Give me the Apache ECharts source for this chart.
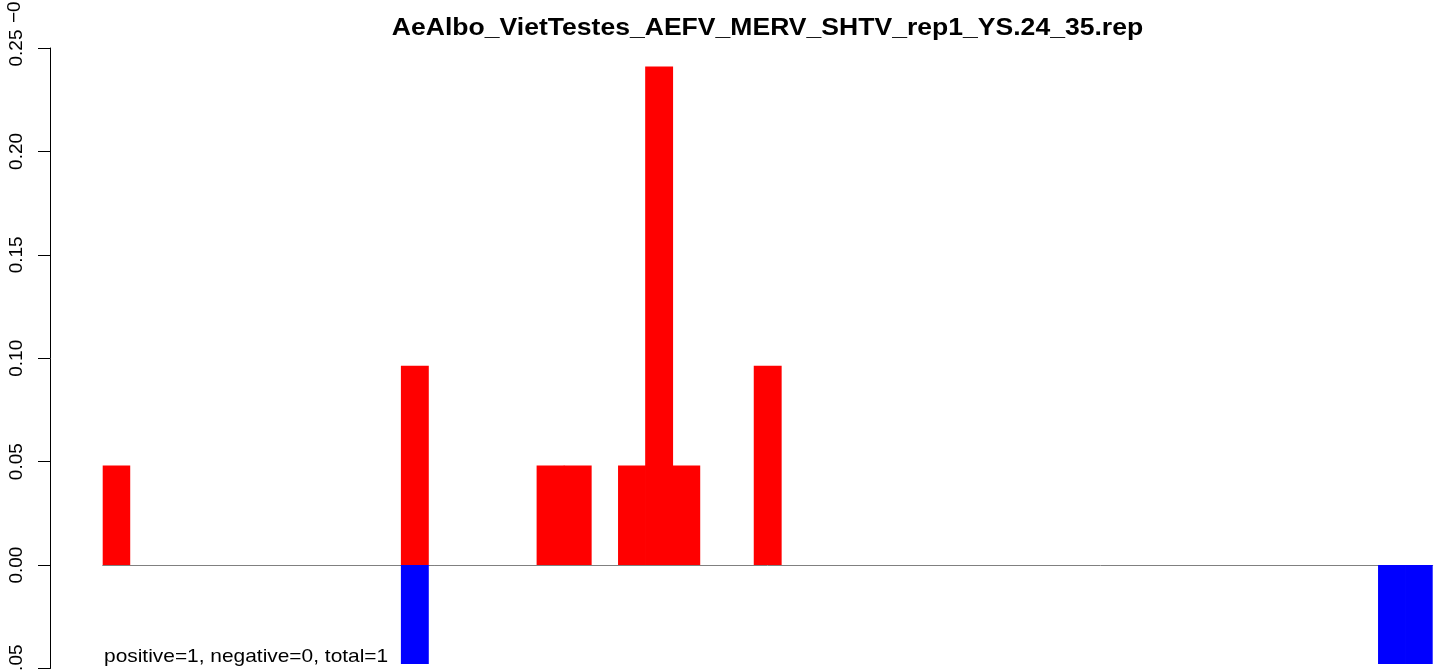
<!DOCTYPE html>
<html>
<head>
<meta charset="utf-8">
<script src="https://cdn.jsdelivr.net/npm/echarts@6/dist/echarts.min.js"></script>
<style>
html,body{margin:0;padding:0;background:#fff;}
#chart{width:1441px;height:671px;}
</style>
</head>
<body>
<div id="chart"></div>
<script>
// ---- data ----
var titleText = 'AeAlbo_VietTestes_AEFV_MERV_SHTV_rep1_YS.24_35.rep';
var noteText = 'positive=1, negative=0, total=1';
var positions = [];
for (var i = 1; i <= 49; i++) positions.push(String(i));
// positive-strand (red) frequencies by position
var positiveValues = [0.0482,0,0,0,0,0,0,0,0,0,0,0.0964,0,0,0,0,0.0482,0.0482,0,0.0482,0.241,0.0482,0,0,0.0964,0,0,0,0,0,0,0,0,0,0,0,0,0,0,0,0,0,0,0,0,0,0,0,0];
// negative-strand (blue) frequencies by position
var negativeValues = [0,0,0,0,0,0,0,0,0,0,0,-0.0478,0,0,0,0,0,0,0,0,0,0,0,0,0,0,0,0,0,0,0,0,0,0,0,0,0,0,0,0,0,0,0,0,0,0,0,-0.0478,-0.0478];
var yTicks = [-0.05, 0, 0.05, 0.10, 0.15, 0.20, 0.25];

var FONT = '"Liberation Sans", Arial, Helvetica, sans-serif';
// zero-height bars draw nothing, so leave them out
function toBars(arr) { return arr.map(function (v) { return v === 0 ? '-' : v; }); }

var chart = echarts.init(document.getElementById('chart'), null, {renderer: 'canvas'});
chart.setOption({
  animation: false,
  backgroundColor: '#ffffff',
  grid: {left: 102.7, right: 8.3, top: 48, bottom: 2.5, containLabel: false, outerBoundsMode: 'none'},
  xAxis: {
    type: 'category',
    data: positions,
    boundaryGap: true,
    axisLine: {show: true, onZero: true, lineStyle: {color: '#808080', width: 1}},
    axisTick: {show: false},
    axisLabel: {show: false},
    splitLine: {show: false}
  },
  yAxis: {
    type: 'value',
    min: yTicks[0],
    max: yTicks[yTicks.length - 1],
    interval: 0.05,
    offset: 52.7,
    axisLine: {show: true, lineStyle: {color: '#000', width: 1}},
    axisTick: {show: true, length: 12, inside: false, lineStyle: {color: '#000', width: 1}},
    splitLine: {show: false},
    axisLabel: {
      show: true,
      rotate: 90,
      margin: 24,
      fontSize: 19,
      fontFamily: FONT,
      color: '#000',
      hideOverlap: false,
      formatter: function (v) { return (v < 0 ? '\u2212' : '') + Math.abs(v).toFixed(2); }
    }
  },
  series: [
    {
      type: 'bar',
      data: toBars(positiveValues),
      barWidth: 27.9,
      barGap: '-100%',
      itemStyle: {color: '#ff0000'}
    },
    {
      type: 'bar',
      data: toBars(negativeValues),
      barWidth: 27.9,
      barGap: '-100%',
      itemStyle: {color: '#0000ff'}
    }
  ],
  graphic: [
    {
      type: 'text', x: 767.5, y: 40, scaleX: 1.14,
      style: {text: titleText, x: 0, y: 0, align: 'center', verticalAlign: 'bottom',
        font: 'bold 23.3px ' + FONT, fill: '#000'}
    },
    {
      type: 'text', x: 104, y: 666, scaleX: 1.13,
      style: {text: noteText, x: 0, y: 0, align: 'left', verticalAlign: 'bottom',
        font: '18.5px ' + FONT, fill: '#000'}
    },
    {
      type: 'text', x: 14.5, y: 23, rotation: Math.PI / 2,
      style: {text: '\u22120.05', x: 0, y: 0, align: 'left', verticalAlign: 'middle',
        font: '19px ' + FONT, fill: '#000'}
    }
  ]
});
</script>
</body>
</html>
